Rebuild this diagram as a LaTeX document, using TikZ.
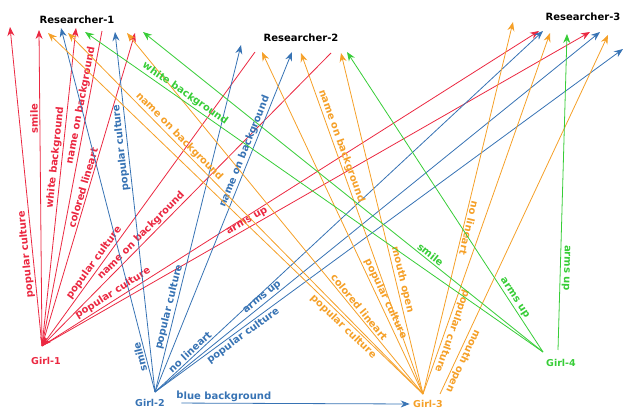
\documentclass[tikz,border=0pt]{standalone}
\usepackage{fontspec}
\setmainfont{DejaVu Sans}
\usetikzlibrary{arrows.meta}
\definecolor{cred}{RGB}{235,40,65}
\definecolor{cblue}{RGB}{55,115,180}
\definecolor{corange}{RGB}{245,160,40}
\definecolor{cgreen}{RGB}{55,205,55}

\begin{document}
\begin{tikzpicture}[x=1pt,y=-1pt,
	fwd/.style={line width=0.8pt,-{Stealth[length=9pt,width=7pt,inset=3pt]}},
	rev/.style={line width=0.8pt,{Stealth[length=9pt,width=7pt,inset=3pt]}-},
	lab/.style={font=\fontsize{10}{11}\selectfont\bfseries,sloped,allow upside down,inner sep=1.5pt},
	who/.style={font=\fontsize{10}{12}\selectfont\bfseries},
	girl/.style={font=\fontsize{9.5}{11}\selectfont\bfseries}]
	\useasboundingbox (0,0) rectangle (625,409);
	\node[who] (R1) at (77,20) {Researcher-1};
	\node[who] (R2) at (301,38) {Researcher-2};
	\node[who] (R3) at (583,17) {Researcher-3};
	\node[girl,text=cred] (G1) at (46,361) {Girl-1};
	\node[girl,text=cblue] (G2) at (150,403) {Girl-2};
	\node[girl,text=corange] (G3) at (428,404) {Girl-3};
	\node[girl,text=cgreen] (G4) at (561,363) {Girl-4};
	\coordinate (g1) at (42,346);
	\coordinate (g2) at (155,392);
	\coordinate (g3) at (423,394);
	\coordinate (g3b) at (440,394);
	\coordinate (g4) at (543,352);
	\coordinate (g4b) at (558,350);
	\coordinate (r1a) at (10,27);
	\coordinate (r1b) at (39,30);
	\coordinate (r1c) at (48,33);
	\coordinate (r1d) at (61,28);
	\coordinate (r1e) at (68,33);
	\coordinate (r1f) at (76,28);
	\coordinate (r1g) at (85,32);
	\coordinate (r1h) at (102,31);
	\coordinate (r1i) at (115,32);
	\coordinate (r1j) at (127,33);
	\coordinate (r1k) at (135,33);
	\coordinate (r1l) at (143,32);
	\coordinate (r2a) at (241,45);
	\coordinate (r2b) at (255,52);
	\coordinate (r2c) at (262,52);
	\coordinate (r2d) at (292,52);
	\coordinate (r2e) at (301,53);
	\coordinate (r2f) at (331,53);
	\coordinate (r2g) at (341,53);
	\coordinate (r2h) at (347,52);
	\coordinate (r3a) at (513,22);
	\coordinate (r3b) at (539,31);
	\coordinate (r3c) at (543,31);
	\coordinate (r3d) at (550,33);
	\coordinate (r3e) at (567,34);
	\coordinate (r3f) at (590,32);
	\coordinate (r3g) at (600,32);
	\coordinate (r3h) at (608,35);
	\coordinate (r3i) at (623,49);
	\draw[cred] (g1) edge[fwd] node[lab,above,pos=.29] {popular culture} (r1a)
		(g1) edge[fwd] node[lab,above,pos=.72] {smile} (r1b)
		(g1) edge[fwd] node[lab,above,pos=.59] {white background} (r1f)
		(g1) edge[rev] node[lab,above,pos=.76] {name on background} (r1h)
		(g1) edge[fwd] node[lab,above,pos=.5] {colored lineart} (r1k)
		(g1) edge[rev] node[lab,above,pos=.27] {popular culture} (r2b)
		(g1) edge[rev] node[lab,above,pos=.36] {name on background} (r2f)
		(g1) edge[fwd] node[lab,above,pos=.15] {popular culture} (r3b)
		(g1) edge[fwd] node[lab,above,pos=.38] {arms up} (r3f);
	\draw[cblue] (g2) edge[fwd] node[lab,above,pos=.1] {smile} (r1d)
		(g2) edge[fwd] node[lab,above,pos=.68] {popular culture} (r1i)
		(g2) edge[fwd] node[lab,above,pos=.24] {popular culture} (r2a)
		(g2) edge[fwd] node[lab,above,pos=.7] {name on background} (r2d)
		(g2) edge[fwd] node[lab,above,pos=.1] {no lineart} (r3c)
		(g2) edge[fwd] node[lab,above,pos=.25] {arms up} (r3g)
		(g2) edge[fwd] node[lab,below,pos=.18] {popular culture} (r3i)
		(G2.east) edge[fwd,shorten <=13pt] node[lab,above,pos=.23] {blue background} (G3.west);
	\draw[corange] (r1c) edge[rev] node[lab,below,pos=.8] {popular culture} (g3)
		(r1e) edge[rev] node[lab,above,pos=.3] {name on background} (g3)
		(r1j) edge[rev] node[lab,above,pos=.77] {colored lineart} (g3)
		(r2c) edge[rev] node[lab,above,pos=.73] {popular culture} (g3)
		(r2e) edge[rev] node[lab,above,pos=.28] {name on background} (g3)
		(r2g) edge[rev] node[lab,above,pos=.67] {mouth open} (g3)
		(r3a) edge[rev] node[lab,above,pos=.55] {no lineart} (g3)
		(r3d) edge[rev] node[lab,above,pos=.82] {popular culture} (g3)
		(r3h) edge[rev] node[lab,above,pos=.9] {mouth open} (g3b);
	\draw[cgreen] (r1g) edge[rev] node[lab,above,pos=.21] {white background} (g4)
		(r1l) edge[rev] node[lab,above,pos=.71] {smile} (g4)
		(r2h) edge[rev] node[lab,above,pos=.83] {arms up} (g4)
		(r3e) edge[rev] node[lab,above,pos=.74] {arms up} (g4b);
\end{tikzpicture}
\end{document}
